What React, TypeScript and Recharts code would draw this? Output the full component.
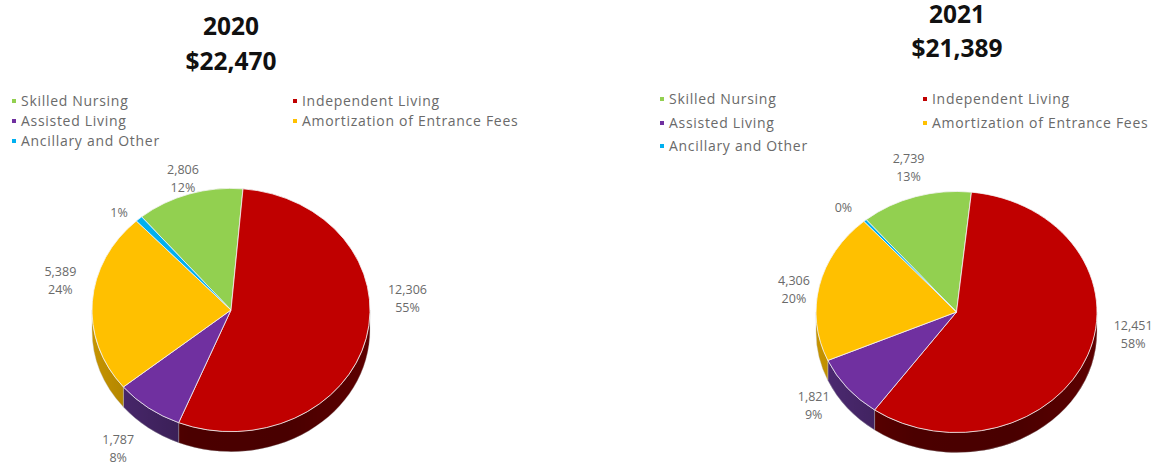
import { Legend, Pie, PieChart } from "recharts";

const categories = [
  "Skilled Nursing",
  "Independent Living",
  "Assisted Living",
  "Amortization of Entrance Fees",
  "Ancillary and Other",
];
const values2020 = [2806, 12306, 1787, 5389, 182];
const values2021 = [2739, 12451, 1821, 4306, 72];
const faceColors = ["#92d050", "#c00000", "#7030a0", "#ffc000", "#00b0f0"];
const wallColors = ["#5f8a30", "#680000", "#4e2a74", "#c69400", "#0080b0"];

const FONT = "'Open Sans', sans-serif";
const TEXT = "#6a6a6a";
const START_ANGLE = 130;

const rim = (cx: number, cy: number, rx: number, ry: number, deg: number) => {
  const a = (deg * Math.PI) / 180;
  return [cx + rx * Math.cos(a), cy - ry * Math.sin(a)];
};

// top face of a tilted slice
function FaceSlice({ squash }: { squash: number }) {
  return (p: any) => {
    const rx = p.outerRadius;
    const ry = rx * squash;
    const [x1, y1] = rim(p.cx, p.cy, rx, ry, p.startAngle);
    const [x2, y2] = rim(p.cx, p.cy, rx, ry, p.endAngle);
    const large = p.startAngle - p.endAngle > 180 ? 1 : 0;
    return (
      <path
        d={`M${p.cx},${p.cy}L${x1},${y1}A${rx},${ry} 0 ${large} 1 ${x2},${y2}Z`}
        fill={p.fill}
        stroke="#f4f4f4"
        strokeWidth={0.8}
      />
    );
  };
}

// outer wall, only the part of the rim that faces the viewer
function WallSlice({ squash, depth, shadeId }: { squash: number; depth: number; shadeId: string }) {
  return (p: any) => {
    const lo = Math.max(p.endAngle, -180);
    const hi = Math.min(p.startAngle, 0);
    if (hi <= lo) return <g />;
    const rx = p.outerRadius;
    const ry = rx * squash;
    const [x1, y1] = rim(p.cx, p.cy, rx, ry, hi);
    const [x2, y2] = rim(p.cx, p.cy, rx, ry, lo);
    const d = `M${x1},${y1}A${rx},${ry} 0 0 1 ${x2},${y2}L${x2},${y2 + depth}A${rx},${ry} 0 0 0 ${x1},${y1 + depth}Z`;
    return (
      <g>
        <path d={d} fill={p.payload.wall} stroke="#c8c8c8" strokeWidth={0.4} />
        <path d={d} fill={`url(#${shadeId})`} />
      </g>
    );
  };
}

type YearPieProps = {
  year: string;
  values: number[];
  left: number;
  cx: number;
  cy: number;
  radius: number;
  squash: number;
  depth: number;
  titleX: number;
  titleY: number[];
  legendX: number[];
  legendY: number[];
  labelNudge: number[][];
};

function YearPie(props: YearPieProps) {
  const { year, values, left, cx, cy, radius, squash, depth } = props;
  const total = values.reduce((sum, v) => sum + v, 0);
  const rows = categories.map((name, i) => ({
    name,
    value: values[i],
    fill: faceColors[i],
    wall: wallColors[i],
  }));
  const shadeId = `wall-shade-${year}`;

  const renderLegend = ({ payload }: any) => {
    // both pies report their slices, keep one entry per category
    const items = (payload || []).filter(
      (item: any, i: number, all: any[]) => all.findIndex((o) => o.value === item.value) === i,
    );
    return (
      <div style={{ position: "relative", fontFamily: FONT, fontSize: 14, color: TEXT }}>
        {items.map((item: any, i: number) => (
          <div
            key={item.value}
            style={{
              position: "absolute",
              left: props.legendX[i % 2],
              top: props.legendY[Math.floor(i / 2)] - 9,
              lineHeight: "18px",
              whiteSpace: "nowrap",
              letterSpacing: 0.7,
            }}
          >
            <span
              style={{
                position: "absolute",
                left: -9,
                top: 7,
                width: 4,
                height: 4,
                background: item.color,
              }}
            />
            {item.value}
          </div>
        ))}
      </div>
    );
  };

  const renderLabel = (p: any) => {
    const a = (p.midAngle * Math.PI) / 180;
    const gap = 24;
    const nudge = props.labelNudge[p.index];
    const x = p.cx + (p.outerRadius + gap) * Math.cos(a) + nudge[0];
    const y = p.cy - (p.outerRadius * squash + gap) * Math.sin(a) + nudge[1];
    const pct = `${Math.round(p.percent * 100)}%`;
    const textProps = {
      x,
      textAnchor: "middle" as const,
      dominantBaseline: "central" as const,
      fontFamily: FONT,
      fontSize: 12.5,
      fill: TEXT,
    };
    // the sliver only carries its share
    if (p.percent < 0.02) {
      return (
        <text {...textProps} y={y}>
          {pct}
        </text>
      );
    }
    return (
      <g>
        <text {...textProps} y={y - 9}>
          {p.value.toLocaleString("en-US")}
        </text>
        <text {...textProps} y={y + 9}>
          {pct}
        </text>
      </g>
    );
  };

  return (
    <div style={{ position: "absolute", left, top: 0 }}>
      <PieChart width={579} height={465} margin={{ top: 0, right: 0, bottom: 0, left: 0 }}>
        <defs>
          <linearGradient
            id={shadeId}
            gradientUnits="userSpaceOnUse"
            x1={cx - radius}
            x2={cx + radius}
            y1={0}
            y2={0}
          >
            <stop offset="0%" stopColor="#000" stopOpacity={0} />
            <stop offset="35%" stopColor="#000" stopOpacity={0.28} />
            <stop offset="70%" stopColor="#000" stopOpacity={0.3} />
            <stop offset="100%" stopColor="#000" stopOpacity={0.1} />
          </linearGradient>
        </defs>
        <text textAnchor="middle" fontFamily={FONT} fontSize={24.5} fontWeight={700} fill="#111">
          <tspan x={props.titleX} y={props.titleY[0]}>
            {year}
          </tspan>
          <tspan x={props.titleX} y={props.titleY[1]}>
            {`$${total.toLocaleString("en-US")}`}
          </tspan>
        </text>
        <Legend
          content={renderLegend}
          itemSorter={null}
          wrapperStyle={{ position: "absolute", left: 0, top: 0, bottom: "auto", width: 579, height: 0 }}
        />
        <Pie
          data={rows}
          dataKey="value"
          nameKey="name"
          legendType="none"
          cx={cx}
          cy={cy}
          outerRadius={radius}
          startAngle={START_ANGLE}
          endAngle={START_ANGLE - 360}
          shape={WallSlice({ squash, depth, shadeId })}
          isAnimationActive={false}
        />
        <Pie
          data={rows}
          dataKey="value"
          nameKey="name"
          cx={cx}
          cy={cy}
          outerRadius={radius}
          startAngle={START_ANGLE}
          endAngle={START_ANGLE - 360}
          shape={FaceSlice({ squash })}
          label={renderLabel}
          labelLine={false}
          isAnimationActive={false}
        />
      </PieChart>
    </div>
  );
}

export default function App() {
  return (
    <div style={{ position: "absolute", left: 0, top: 0, width: 1158, height: 465, background: "#fff" }}>
      <YearPie
        year="2020"
        values={values2020}
        left={0}
        cx={231}
        cy={310}
        radius={139}
        squash={0.875}
        depth={20}
        titleX={231}
        titleY={[35, 70]}
        legendX={[21, 302]}
        legendY={[101, 121, 141]}
        labelNudge={[
          [1, 7],
          [18, -46],
          [-16, 21],
          [-8, -20],
          [-4, 12],
        ]}
      />
      <YearPie
        year="2021"
        values={values2021}
        left={579}
        cx={377.5}
        cy={312}
        radius={140.5}
        squash={0.858}
        depth={20}
        titleX={378}
        titleY={[23, 57]}
        legendX={[90, 353]}
        legendY={[99, 123, 146]}
        labelNudge={[
          [0, -6],
          [23, -29],
          [-15, 3],
          [-2, 9],
          [-6, 5],
        ]}
      />
    </div>
  );
}
